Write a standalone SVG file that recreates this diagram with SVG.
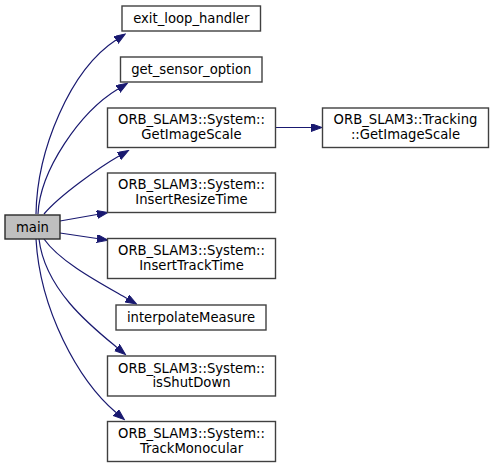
<svg xmlns="http://www.w3.org/2000/svg" width="493" height="467" viewBox="0 0 493 467">
<style>
.n rect{fill:#ffffff;stroke:#404040;stroke-width:1.4}
#main rect{fill:#bfbfbf;stroke:#2a2a2a}
text{font-family:"DejaVu Sans",sans-serif;font-size:13.2px;fill:#000;text-anchor:middle}
.e path{fill:none;stroke:#191970;stroke-width:1.2}
</style>
<defs>
<marker id="ah" markerUnits="userSpaceOnUse" markerWidth="12" markerHeight="9" refX="0" refY="4" orient="auto">
<path d="M0,0 L11,4 L0,8 z" fill="#191970" stroke="#191970" stroke-width="1"/>
</marker>
</defs>
<rect width="493" height="467" fill="#ffffff"/>
<g id="edges" class="e">
<path d="M36,214 C37,150 70,70 116,40" marker-end="url(#ah)"/>
<path d="M38,214 C40,170 80,112 118,89" marker-end="url(#ah)"/>
<path d="M44,214 C60,195 100,167 119,156" marker-end="url(#ah)"/>
<path d="M60,221 L97,214.5" marker-end="url(#ah)"/>
<path d="M60,233 L97,238.5" marker-end="url(#ah)"/>
<path d="M44,239 C60,262 100,283 127,298.5" marker-end="url(#ah)"/>
<path d="M39,239 C45,290 92,327 117,347.5" marker-end="url(#ah)"/>
<path d="M36,239 C40,310 78,380 116,412.5" marker-end="url(#ah)"/>
<path d="M275.5,127.5 L311,127.5" marker-end="url(#ah)"/>
</g>
<g id="main" class="n"><rect x="5" y="215" width="55" height="24"/><text x="32.5" y="231.5">main</text></g>
<g id="exit_loop_handler" class="n"><rect x="122" y="6" width="138.5" height="25"/><text x="191.25" y="23">exit_loop_handler</text></g>
<g id="get_sensor_option" class="n"><rect x="120.5" y="57" width="141.5" height="25"/><text x="191.25" y="74">get_sensor_option</text></g>
<g id="System_GetImageScale" class="n"><rect x="107.5" y="108" width="168" height="39.5"/><text x="191.5" y="124">ORB_SLAM3::System::</text><text x="191.5" y="138.5">GetImageScale</text></g>
<g id="Tracking_GetImageScale" class="n"><rect x="322.5" y="108" width="166" height="39.5"/><text x="405.5" y="124">ORB_SLAM3::Tracking</text><text x="405.5" y="138.5">::GetImageScale</text></g>
<g id="InsertResizeTime" class="n"><rect x="107.5" y="173" width="168" height="39.5"/><text x="191.5" y="189">ORB_SLAM3::System::</text><text x="191.5" y="203.5">InsertResizeTime</text></g>
<g id="InsertTrackTime" class="n"><rect x="107.5" y="238.5" width="168" height="40"/><text x="191.5" y="255">ORB_SLAM3::System::</text><text x="191.5" y="269.5">InsertTrackTime</text></g>
<g id="interpolateMeasure" class="n"><rect x="116" y="305" width="150" height="25"/><text x="191" y="321.5">interpolateMeasure</text></g>
<g id="isShutDown" class="n"><rect x="107.5" y="356" width="168" height="40"/><text x="191.5" y="372.5">ORB_SLAM3::System::</text><text x="191.5" y="387">isShutDown</text></g>
<g id="TrackMonocular" class="n"><rect x="107.5" y="421.5" width="168" height="40"/><text x="191.5" y="438">ORB_SLAM3::System::</text><text x="191.5" y="452.5">TrackMonocular</text></g>
</svg>
